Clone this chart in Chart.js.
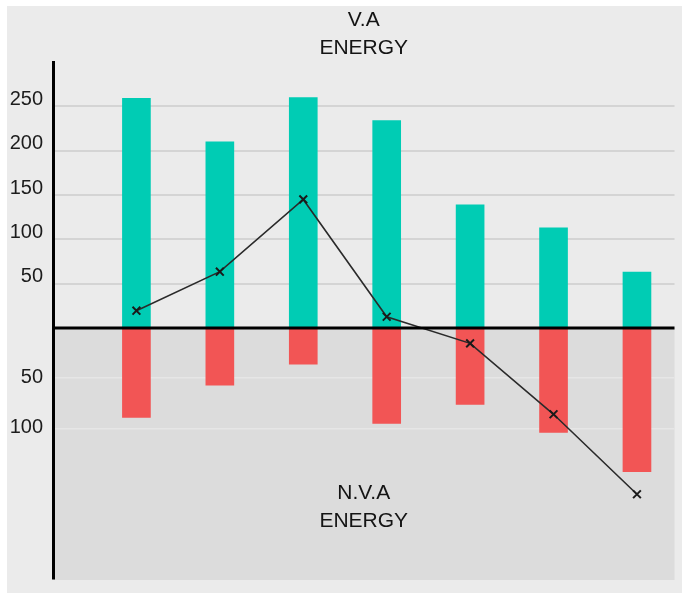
<!DOCTYPE html>
<html>
<head>
<meta charset="utf-8">
<script src="https://cdn.jsdelivr.net/npm/chart.js@4"></script>
<style>
  html, body { margin: 0; padding: 0; background: #fff; }
  canvas { display: block; }
</style>
</head>
<body>
<canvas id="chart" width="682" height="593"></canvas>
<script>
// Seven unlabeled stations, value-added energy above the axis, non-value-added below
const categories = [0, 1, 2, 3, 4, 5, 6];
const vaEnergy = [259, 210, 260, 234, 139, 113, 63];
const nvaEnergy = [89, 57, 36, 95, 76, 104, 143];
const trend = [19.5, 63.5, 145, 12.7, -17.3, -97.3, -187.5];
const upperTicks = [50, 100, 150, 200, 250];
const lowerTicks = [50, 100];

const FONT = '"Liberation Sans", Arial, sans-serif';

// Backgrounds, the baseline and the two section captions
const panels = {
  id: 'panels',
  beforeDraw(chart) {
    const { ctx, chartArea: a, scales } = chart;
    ctx.save();
    ctx.fillStyle = '#ffffff';
    ctx.fillRect(0, 0, chart.width, chart.height);
    ctx.fillStyle = '#ebebeb';
    ctx.fillRect(7, 6, chart.width - 7, chart.height - 6);
    const yd = scales.yDown;
    ctx.fillStyle = '#dcdcdc';
    ctx.fillRect(a.left, yd.top, a.right - a.left, yd.bottom - yd.top + 1);
    ctx.restore();
  },
  afterDatasetsDraw(chart) {
    const { ctx, chartArea: a, scales } = chart;
    const y0 = scales.yUp.getPixelForValue(0);
    ctx.save();
    ctx.strokeStyle = '#000';
    ctx.lineWidth = 3;
    ctx.beginPath();
    ctx.moveTo(a.left, y0);
    ctx.lineTo(a.right, y0);
    ctx.stroke();
    ctx.restore();
  },
  afterDraw(chart) {
    const { ctx, chartArea: a } = chart;
    const cx = (a.left + a.right) / 2;
    ctx.save();
    ctx.fillStyle = '#141414';
    ctx.font = '21px ' + FONT;
    ctx.textAlign = 'center';
    ctx.textBaseline = 'middle';
    ctx.fillText('V.A', cx, 20);
    ctx.fillText('ENERGY', cx, 48);
    ctx.fillText('N.V.A', cx, 493);
    ctx.fillText('ENERGY', cx, 521);
    ctx.restore();
  }
};

const tickFont = { family: FONT, size: 20 };

// Fixed axis width; the layout padding alone sets the plot's top and bottom
function fitAxis(s) {
  s.width = 46;
  s.paddingTop = 0;
  s.paddingBottom = 0;
}

new Chart(document.getElementById('chart'), {
  data: {
    datasets: [
      {
        type: 'line',
        label: 'Trend',
        data: categories.map((c, i) => ({ x: c, y: trend[i] })),
        yAxisID: 'yUp',
        borderColor: '#2a2a2a',
        borderWidth: 1.6,
        pointStyle: 'crossRot',
        pointRadius: 5.5,
        pointBorderWidth: 2,
        pointBorderColor: '#1a1a1a',
        tension: 0,
        clip: false,
        order: 0
      },
      {
        type: 'bar',
        label: 'V.A Energy',
        data: categories.map((c, i) => ({ x: c, y: vaEnergy[i] })),
        yAxisID: 'yUp',
        backgroundColor: '#00ccb4',
        barThickness: 28,
        grouped: false,
        order: 1
      },
      {
        type: 'bar',
        label: 'N.V.A Energy',
        data: categories.map((c, i) => ({ x: c, y: nvaEnergy[i] })),
        yAxisID: 'yDown',
        backgroundColor: '#f25555',
        barThickness: 28,
        grouped: false,
        order: 2
      }
    ]
  },
  options: {
    responsive: false,
    animation: false,
    devicePixelRatio: 1,
    layout: { padding: { top: 62, left: 7, right: 7, bottom: 14 } },
    plugins: {
      legend: { display: false },
      tooltip: { enabled: false },
      title: { display: false }
    },
    scales: {
      x: {
        type: 'linear',
        display: false,
        offset: false,
        min: -1,
        max: 6.45
      },
      yDown: {
        type: 'linear',
        position: 'left',
        stack: 'energy',
        stackWeight: 251,
        min: 0,
        max: 250,
        reverse: true,
        afterBuildTicks(s) { s.ticks = lowerTicks.map(v => ({ value: v })); },
        afterFit: fitAxis,
        grid: { color: '#e6e6e6', lineWidth: 1.5, drawTicks: false },
        border: { color: '#000', width: 3 },
        ticks: { padding: 10, labelOffset: -1, color: '#1c1c1c', font: tickFont }
      },
      yUp: {
        type: 'linear',
        position: 'left',
        stack: 'energy',
        stackWeight: 266,
        min: 0,
        max: 300,
        afterBuildTicks(s) { s.ticks = upperTicks.map(v => ({ value: v })); },
        afterFit: fitAxis,
        grid: { color: '#d4d4d4', lineWidth: 2, drawTicks: false },
        border: { color: '#000', width: 3 },
        ticks: { padding: 10, labelOffset: -7, color: '#1c1c1c', font: tickFont }
      }
    }
  },
  plugins: [panels]
});
</script>
</body>
</html>
